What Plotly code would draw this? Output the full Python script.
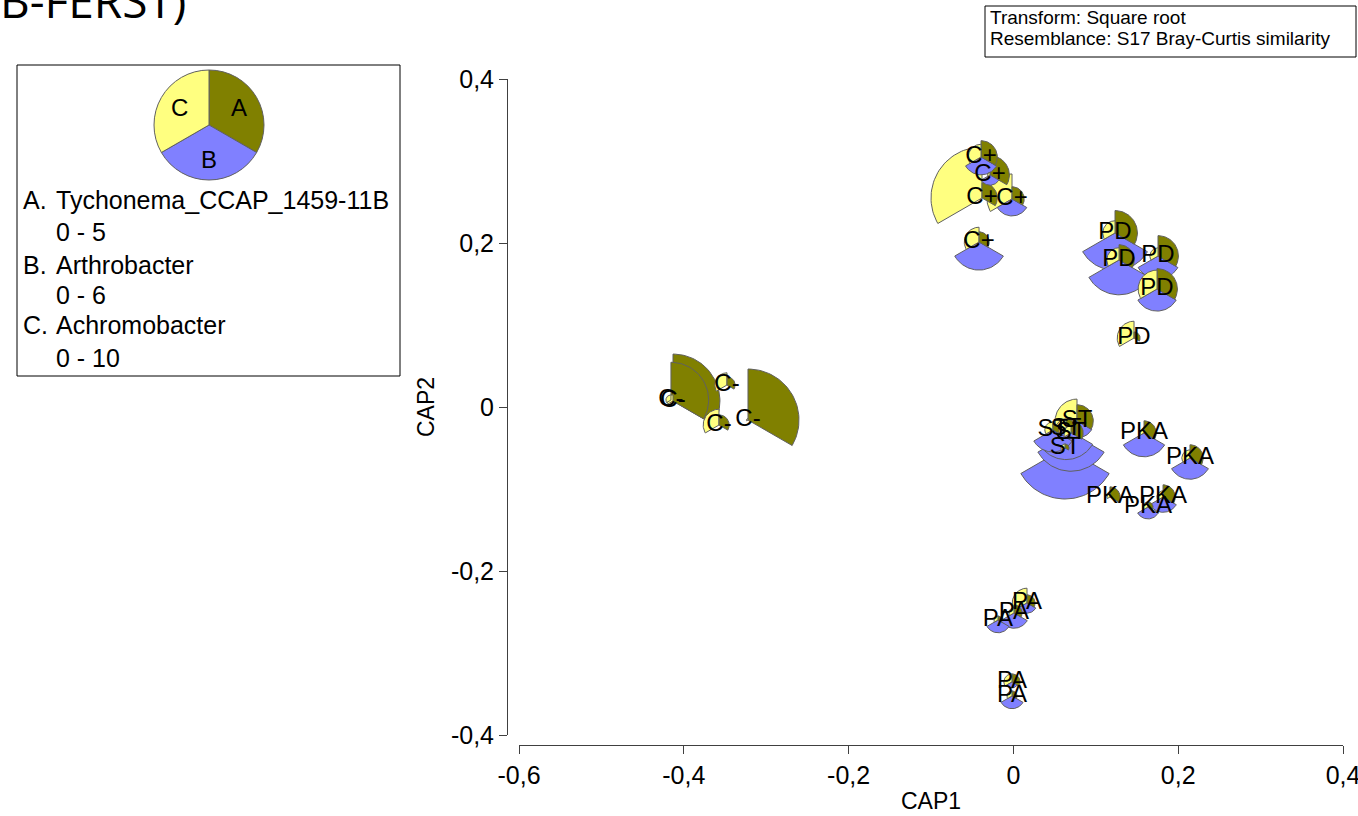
import numpy as np
import plotly.graph_objects as go

# ---------------- data ----------------
groups = ["C+", "C+", "C+", "C+", "C+",
          "PD", "PD", "PD", "PD", "PD",
          "C-", "C-", "C-", "C-", "C-",
          "ST", "ST", "ST", "ST", "ST",
          "PKA", "PKA", "PKA", "PKA", "PKA",
          "PA", "PA", "PA", "PA", "PA"]
cap1 = [-0.0381, -0.0393, -0.0284, -0.0017, -0.0417,
        0.1233, 0.1282, 0.1755, 0.1743, 0.1464,
        -0.4131, -0.4156, -0.3476, -0.3573, -0.3221,
        0.0772, 0.0480, 0.0699, 0.0626, 0.0639,
        0.1585, 0.2143, 0.1172, 0.1816, 0.1633,
        -0.0187, 0.0007, 0.0165, -0.0017, -0.0017]
cap2 = [0.2549, 0.3049, 0.2829, 0.2537, 0.2012,
        0.2122, 0.1793, 0.1841, 0.1439, 0.0841,
        0.0073, 0.0085, 0.0268, -0.0220, -0.0159,
        -0.0171, -0.0280, -0.0317, -0.0500, -0.0268,
        -0.0317, -0.0622, -0.1098, -0.1098, -0.1220,
        -0.2598, -0.2512, -0.2390, -0.3354, -0.3524]
tychonema = [1.5, 1.6, 1.9, 1.2, 1.0,
             2.2, 1.5, 2.0, 2.0, 0.6,
             4.6, 3.7, 0.8, 1.0, 5.0,
             1.6, 0.6, 1.2, 0.4, 1.0,
             1.2, 1.3, 1.0, 1.2, 0.5,
             0.4, 0.8, 0.8, 0.8, 0.5]
arthrobacter = [0.0, 2.1, 1.2, 2.0, 3.3,
                4.4, 4.1, 2.7, 2.6, 0.0,
                0.0, 0.0, 0.0, 0.0, 0.0,
                2.0, 2.6, 4.5, 6.0, 3.6,
                2.8, 2.5, 0.0, 1.8, 1.4,
                1.5, 1.8, 1.2, 0.7, 1.5]
achromobacter = [10.0, 2.5, 0.5, 4.9, 2.9,
                 2.4, 2.4, 1.6, 3.7, 3.3,
                 1.2, 1.0, 2.4, 3.1, 0.3,
                 4.3, 1.6, 1.4, 0.8, 2.0,
                 0.8, 1.6, 0.6, 1.2, 1.0,
                 0.8, 1.0, 2.9, 1.6, 1.0]

var_letters = ["A", "B", "C"]
var_names = ["Tychonema_CCAP_1459-11B", "Arthrobacter", "Achromobacter"]
var_max = [5, 6, 10]
var_colors = ["#808000", "#8080FF", "#FFFF80"]
x_ticks = [-0.6, -0.4, -0.2, 0, 0.2, 0.4]
x_ticktext = ["-0,6", "-0,4", "-0,2", "0", "0,2", "0,4"]
y_ticks = [-0.4, -0.2, 0, 0.2, 0.4]
y_ticktext = ["-0,4", "-0,2", "0", "0,2", "0,4"]

# ---------------- layout geometry ----------------
W, H = 1358, 816
XR = [-0.6, 0.4]
YR = [-0.4, 0.4]
xdom = [519 / W, 1343 / W]
ydom = [1 - 735 / H, 1 - 79 / H]
px_per_x = (xdom[1] - xdom[0]) * W / (XR[1] - XR[0])
px_per_y = (ydom[1] - ydom[0]) * H / (YR[1] - YR[0])
RMAX_PX = 51.0
FONT = "Liberation Sans, Arial, sans-serif"

# sector angles (math degrees, clockwise from 12 o'clock)
sector_angles = [(90, -30), (-30, -150), (-150, -270)]

fig = go.Figure()

sectors = []
values = [tychonema, arthrobacter, achromobacter]
for i in range(len(groups)):
    for k in range(3):
        v = values[k][i]
        if v <= 0:
            continue
        r = RMAX_PX * v / var_max[k]
        sectors.append((r, i, k))
sectors.sort(key=lambda s: -s[0])

for r, i, k in sectors:
    a0, a1 = sector_angles[k]
    t = np.radians(np.linspace(a0, a1, 41))
    xs = np.concatenate([[cap1[i]], cap1[i] + r * np.cos(t) / px_per_x, [cap1[i]]])
    ys = np.concatenate([[cap2[i]], cap2[i] + r * np.sin(t) / px_per_y, [cap2[i]]])
    fig.add_trace(go.Scatter(x=xs, y=ys, mode="lines", fill="toself",
                             fillcolor=var_colors[k],
                             line=dict(color="#606060", width=1),
                             hoverinfo="skip", showlegend=False))

fig.add_trace(go.Scatter(x=cap1, y=cap2, mode="text", text=groups,
                         textposition="middle center",
                         textfont=dict(family=FONT, size=24, color="black"),
                         hoverinfo="skip", showlegend=False))

# legend pie
PIE_CX, PIE_CY, PIE_R = 209, 125, 55
fig.add_trace(go.Pie(values=[1, 1, 1], labels=var_letters, sort=False,
                     direction="clockwise", rotation=0,
                     marker=dict(colors=var_colors, line=dict(color="#606060", width=1)),
                     textinfo="none",
                     domain=dict(x=[(PIE_CX - PIE_R) / W, (PIE_CX + PIE_R) / W],
                                 y=[1 - (PIE_CY + PIE_R) / H, 1 - (PIE_CY - PIE_R) / H]),
                     hoverinfo="skip", showlegend=False))

annotations = []
for k, lab in enumerate(var_letters):
    a0, a1 = sector_angles[k]
    am = np.radians((a0 + a1) / 2)
    annotations.append(dict(x=(PIE_CX + 0.62 * PIE_R * np.cos(am)) / W,
                            y=1 - (PIE_CY - 0.62 * PIE_R * np.sin(am)) / H,
                            xref="paper", yref="paper", text=lab, showarrow=False,
                            xanchor="center", yanchor="middle",
                            font=dict(family=FONT, size=24, color="black")))

legend_rows = [(var_letters[0] + ".", var_names[0], "%d - %d" % (0, var_max[0])),
               (var_letters[1] + ".", var_names[1], "%d - %d" % (0, var_max[1])),
               (var_letters[2] + ".", var_names[2], "%d - %d" % (0, var_max[2]))]
row_y = [(200, 232), (265, 295), (325, 358)]
for (lab, name, rng), (y1, y2) in zip(legend_rows, row_y):
    annotations.append(dict(x=21 / W, y=1 - y1 / H, xref="paper", yref="paper",
                            text=lab, showarrow=False, xanchor="left", yanchor="middle",
                            font=dict(family=FONT, size=25, color="black")))
    annotations.append(dict(x=54 / W, y=1 - y1 / H, xref="paper", yref="paper",
                            text=name, showarrow=False, xanchor="left", yanchor="middle",
                            font=dict(family=FONT, size=25, color="black")))
    annotations.append(dict(x=54 / W, y=1 - y2 / H, xref="paper", yref="paper",
                            text=rng, showarrow=False, xanchor="left", yanchor="middle",
                            font=dict(family=FONT, size=25, color="black")))

annotations.append(dict(x=988 / W, y=1 - 17 / H, xref="paper", yref="paper",
                        text="Transform: Square root", showarrow=False,
                        xanchor="left", yanchor="middle",
                        font=dict(family=FONT, size=19, color="black")))
annotations.append(dict(x=988 / W, y=1 - 38 / H, xref="paper", yref="paper",
                        text="Resemblance: S17 Bray-Curtis similarity", showarrow=False,
                        xanchor="left", yanchor="middle",
                        font=dict(family=FONT, size=19, color="black")))
annotations.append(dict(x=-2 / W, y=1 - 33 / H, xref="paper", yref="paper",
                        text="B-FERST)", showarrow=False,
                        xanchor="left", yanchor="bottom",
                        font=dict(family="Open Sans, sans-serif", size=46, color="black")))

shapes = [
    dict(type="rect", xref="paper", yref="paper", x0=17 / W, x1=400 / W,
         y0=1 - 376 / H, y1=1 - 65 / H, line=dict(color="black", width=1)),
    dict(type="rect", xref="paper", yref="paper", x0=985 / W, x1=1356 / W,
         y0=1 - 57 / H, y1=1 - 6 / H, line=dict(color="black", width=1)),
]

fig.update_layout(
    width=W, height=H,
    margin=dict(l=0, r=0, t=0, b=0, pad=0, autoexpand=False),
    paper_bgcolor="white", plot_bgcolor="white",
    showlegend=False,
    font=dict(family=FONT, color="black"),
    xaxis=dict(domain=xdom, range=XR, anchor="free", position=1 - 745 / H,
               showgrid=False, zeroline=False, showline=True, linecolor="#404040",
               linewidth=1, ticks="outside", ticklen=8, tickcolor="#404040",
               tickvals=x_ticks, ticktext=x_ticktext, automargin=False,
               ticklabeloverflow="allow",
               tickfont=dict(family=FONT, size=25, color="black"),
               title=dict(text="CAP1", font=dict(family=FONT, size=23, color="black"),
                          standoff=4)),
    yaxis=dict(domain=ydom, range=YR, anchor="free", position=507 / W,
               showgrid=False, zeroline=False, showline=True, linecolor="#404040",
               linewidth=1, ticks="outside", ticklen=8, tickcolor="#404040",
               tickvals=y_ticks, ticktext=y_ticktext, automargin=False,
               ticklabeloverflow="allow",
               tickfont=dict(family=FONT, size=25, color="black"),
               title=dict(text="CAP2", font=dict(family=FONT, size=23, color="black"),
                          standoff=8)),
    annotations=annotations,
    shapes=shapes,
)

fig.write_html("out.html", config={"displayModeBar": False},
               post_script="document.body.style.margin='0';document.body.style.overflow='hidden';")
